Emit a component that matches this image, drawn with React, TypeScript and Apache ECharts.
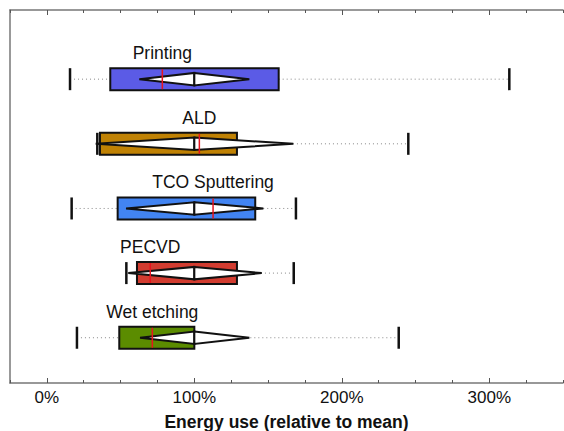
import React, { useEffect, useRef } from "react";
import * as echarts from "echarts";

const categories = ["Printing", "ALD", "TCO Sputtering", "PECVD", "Wet etching"];
const whiskerLow = [15.7, 34.2, 16.8, 53.9, 20.4];
const boxLow = [43.0, 36.0, 48.0, 61.1, 49.1];
const median = [78.3, 103.4, 112.7, 70.1, 71.5];
const boxHigh = [157.2, 128.9, 141.3, 128.9, 100.0];
const whiskerHigh = [313.6, 245.1, 168.9, 167.4, 238.6];
const diamondLow = [62.7, 33.1, 53.7, 55.2, 63.2];
const diamondHigh = [137.3, 167.1, 146.8, 145.7, 137.3];
const meanValue = [100, 100, 100, 100, 100];
const boxColors = ["#5b5be6", "#c08204", "#4284f2", "#d23c30", "#5b8c00"];
const xTickValues = [0, 100, 200, 300];

const FONT = "'Liberation Sans', Arial, sans-serif";

export default function App() {
  const ref = useRef<HTMLDivElement>(null);
  useEffect(() => {
    if (!ref.current) return;
    const chart = echarts.init(ref.current, null, { renderer: "svg" });
    const n = categories.length;
    const data = categories.map((_, i) => [
      n - i,
      whiskerLow[i],
      boxLow[i],
      median[i],
      boxHigh[i],
      whiskerHigh[i],
      diamondLow[i],
      diamondHigh[i],
      meanValue[i],
    ]);
    const common = { type: "value", min: -25, max: 350, splitLine: { show: false } };
    const axisLineStyle = { color: "#777", width: 1.5 };
    chart.setOption({
      animation: false,
      grid: { left: 10, right: 1, top: 10, bottom: 48, containLabel: false, outerBoundsMode: "none" },
      xAxis: [
        {
          ...common,
          position: "bottom",
          interval: 25,
          axisLine: { show: true, onZero: false, lineStyle: axisLineStyle },
          axisTick: { show: true, inside: true, length: 3, lineStyle: { color: "#555", width: 1 } },
          axisLabel: { show: false },
          name: "Energy use (relative to mean)",
          nameLocation: "middle",
          nameGap: 30,
          nameTextStyle: { fontSize: 17.5, fontWeight: "bold", color: "#111", fontFamily: FONT },
        },
        {
          ...common,
          position: "bottom",
          axisLine: { show: false, onZero: false },
          axisTick: { show: true, inside: true, length: 5, customValues: xTickValues, lineStyle: { color: "#555", width: 1 } },
          axisLabel: {
            show: true,
            customValues: xTickValues,
            formatter: (v: number) => v + "%",
            fontSize: 17,
            color: "#111",
            margin: 6,
            fontFamily: FONT,
          },
        },
        {
          ...common,
          position: "top",
          interval: 25,
          axisLine: { show: true, onZero: false, lineStyle: axisLineStyle },
          axisTick: { show: true, inside: true, length: 3, lineStyle: { color: "#555", width: 1 } },
          axisLabel: { show: false },
        },
        {
          ...common,
          position: "top",
          axisLine: { show: false, onZero: false },
          axisTick: { show: true, inside: true, length: 5, customValues: xTickValues, lineStyle: { color: "#555", width: 1 } },
          axisLabel: { show: false },
        },
      ],
      yAxis: {
        type: "value",
        min: 0.3,
        max: 6.07,
        axisLine: { show: true, onZero: false, lineStyle: axisLineStyle },
        axisTick: { show: false },
        axisLabel: { show: false },
        splitLine: { show: false },
      },
      series: [
        {
          type: "custom",
          xAxisIndex: 0,
          yAxisIndex: 0,
          encode: { x: [1, 2, 3, 4, 5, 6, 7, 8], y: 0 },
          data,
          renderItem: (params: any, api: any) => {
            const y = api.value(0);
            const px = (v: number) => api.coord([v, y])[0];
            const cy = api.coord([0, y])[1];
            const H = 11;
            const D = 6.2;
            const xwl = px(api.value(1));
            const xbl = px(api.value(2));
            const xmed = px(api.value(3));
            const xbh = px(api.value(4));
            const xwh = px(api.value(5));
            const xdl = px(api.value(6));
            const xdh = px(api.value(7));
            const xm = px(api.value(8));
            const dotted = { stroke: "#888", lineWidth: 1, lineDash: [1, 3] };
            const idx = params.dataIndex;
            return {
              type: "group",
              children: [
                { type: "line", shape: { x1: xwl, y1: cy, x2: xbl, y2: cy }, style: dotted },
                { type: "line", shape: { x1: xbh, y1: cy, x2: xwh, y2: cy }, style: dotted },
                {
                  type: "rect",
                  shape: { x: xbl, y: cy - H, width: xbh - xbl, height: 2 * H },
                  style: { fill: boxColors[idx], stroke: "#111", lineWidth: 2 },
                },
                {
                  type: "polygon",
                  shape: { points: [[xdl, cy], [xm, cy - D], [xm, cy + D]] },
                  style: { fill: "#fff", stroke: "#111", lineWidth: 2, lineJoin: "miter" },
                },
                {
                  type: "polygon",
                  shape: { points: [[xm, cy - D], [xdh, cy], [xm, cy + D]] },
                  style: { fill: "#fff", stroke: "#111", lineWidth: 2, lineJoin: "miter" },
                },
                { type: "line", shape: { x1: xmed, y1: cy - H + 1, x2: xmed, y2: cy + H - 1 }, style: { stroke: "#e8141e", lineWidth: 1.5 } },
                { type: "line", shape: { x1: xwl, y1: cy - H, x2: xwl, y2: cy + H }, style: { stroke: "#111", lineWidth: 2.5 } },
                { type: "line", shape: { x1: xwh, y1: cy - H, x2: xwh, y2: cy + H }, style: { stroke: "#111", lineWidth: 2.5 } },
                {
                  type: "text",
                  x: xmed,
                  y: cy - 26,
                  style: {
                    text: categories[idx],
                    fill: "#111",
                    fontSize: 17.5,
                    fontFamily: FONT,
                    align: "center",
                    verticalAlign: "middle",
                  },
                },
              ],
            };
          },
        },
      ],
    });
    return () => chart.dispose();
  }, []);
  return (
    <div
      ref={ref}
      style={{ position: "fixed", left: 0, top: 0, width: 564, height: 431, background: "#fff" }}
    />
  );
}
